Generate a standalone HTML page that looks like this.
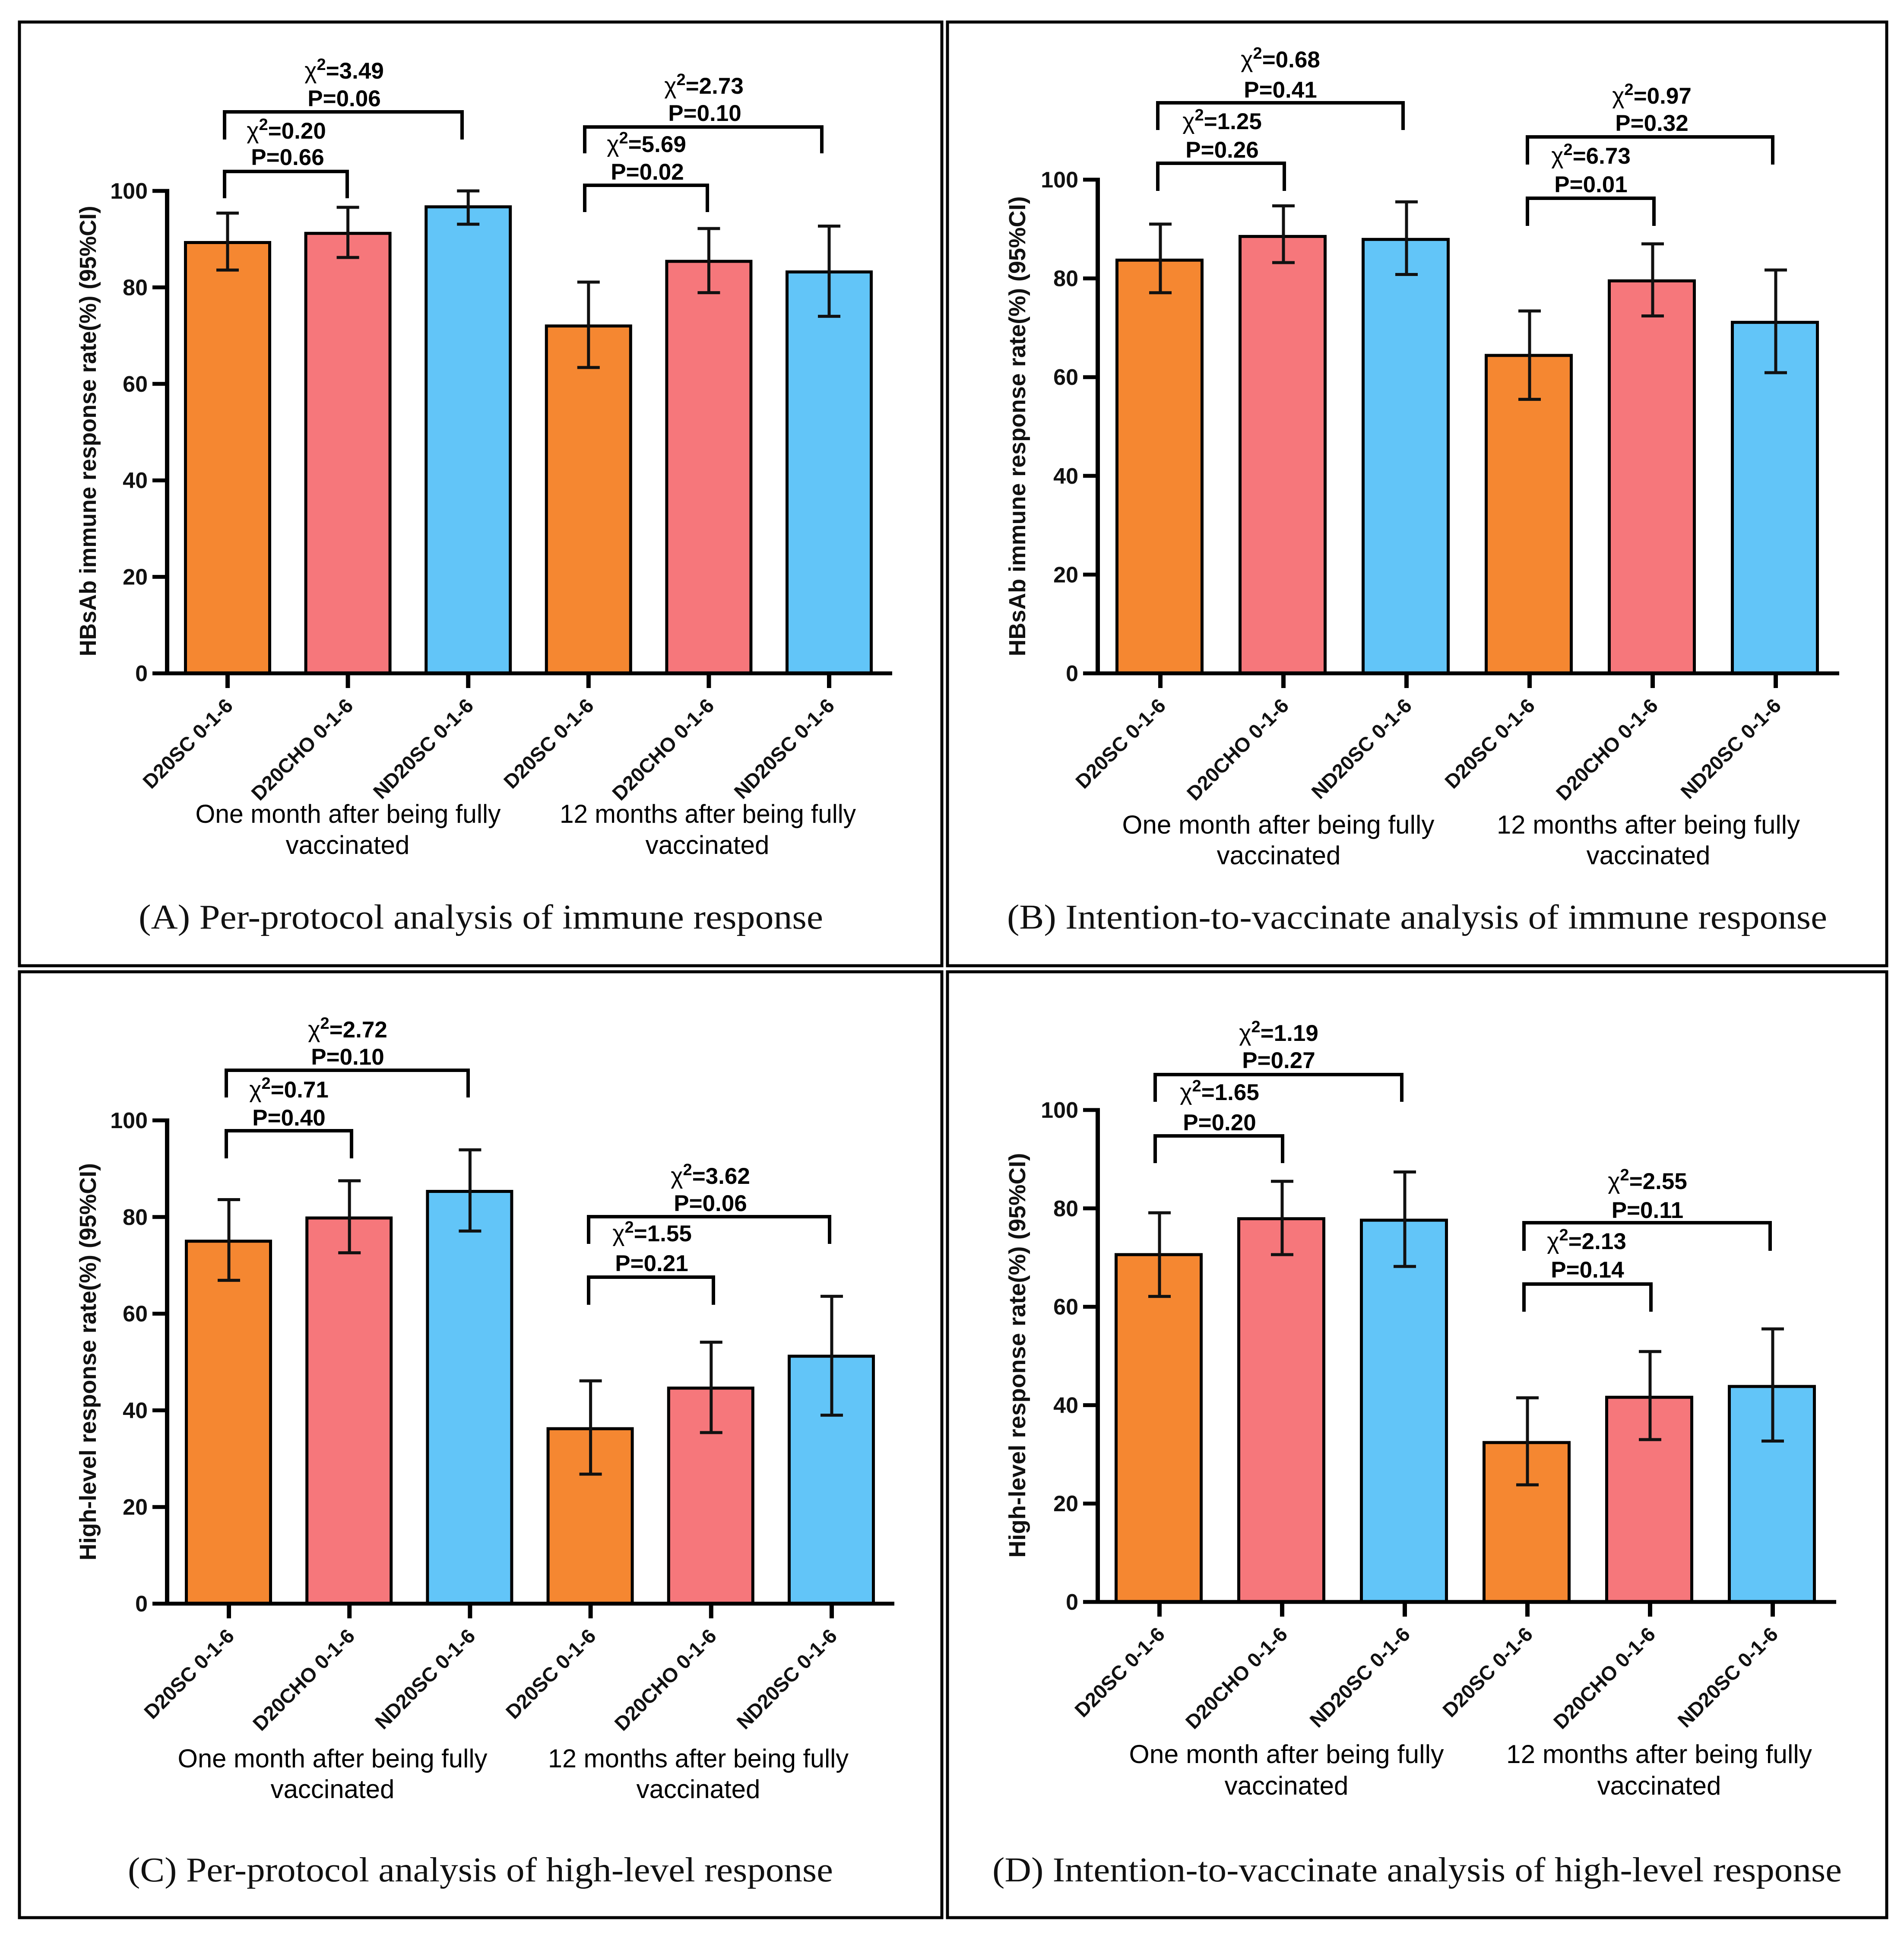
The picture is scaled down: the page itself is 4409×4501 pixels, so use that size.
<!DOCTYPE html>
<html lang="en">
<head>
<meta charset="utf-8">
<title>HBsAb immune response charts</title>
<style>
html,body{margin:0;padding:0;background:#fff;}
svg{display:block;}
text{fill:#000;}
.sans{font-family:"Liberation Sans",sans-serif;}
.tick{font-family:"Liberation Sans",sans-serif;font-weight:bold;font-size:52px;fill:#111;}
.xlab{font-family:"Liberation Sans",sans-serif;font-weight:bold;font-size:46.5px;fill:#111;}
.ytitle{font-family:"Liberation Sans",sans-serif;font-weight:bold;font-size:54px;fill:#111;text-anchor:middle;}
.group{font-family:"Liberation Sans",sans-serif;font-size:60px;text-anchor:middle;fill:#000;}
.ann{font-family:"Liberation Sans",sans-serif;font-weight:bold;font-size:53px;text-anchor:middle;fill:#000;}
.ann .chi{font-weight:normal;font-size:54px;}
.ann .sup{font-size:38px;}
.title{font-family:"Liberation Serif",serif;font-size:80px;fill:#111;}
.frame{fill:none;stroke:#000;stroke-width:7;}
.bracket{fill:none;stroke:#000;stroke-width:8;}
</style>
</head>
<body>
<svg id="figure" xmlns="http://www.w3.org/2000/svg" width="4409" height="4501" viewBox="0 0 4409 4501">
<rect x="0" y="0" width="4409" height="4501" fill="#fff"/>

<!-- Panel frames -->
<rect class="frame" x="45" y="51" width="2136" height="2185"/>
<rect class="frame" x="2194" y="51" width="2175" height="2185"/>
<rect class="frame" x="45" y="2250" width="2136" height="2190"/>
<rect class="frame" x="2194" y="2250" width="2175" height="2190"/>

<!-- Groups the script fills -->
<g id="panel-a"></g>
<g id="panel-b"></g>
<g id="panel-c"></g>
<g id="panel-d"></g>

<!-- Panel titles -->
<text class="title" x="321" y="2150" textLength="1585" lengthAdjust="spacingAndGlyphs">(A) Per-protocol analysis of immune response</text>
<text class="title" x="2332" y="2150" textLength="1899" lengthAdjust="spacingAndGlyphs">(B) Intention-to-vaccinate analysis of immune response</text>
<text class="title" x="296" y="4356" textLength="1633" lengthAdjust="spacingAndGlyphs">(C) Per-protocol analysis of high-level response</text>
<text class="title" x="2298" y="4356" textLength="1967" lengthAdjust="spacingAndGlyphs">(D) Intention-to-vaccinate analysis of high-level response</text>

<!-- Y axis titles -->
<text class="ytitle" transform="translate(222,998) rotate(-90)" textLength="1043" lengthAdjust="spacingAndGlyphs">HBsAb immune response rate(%) (95%CI)</text>
<text class="ytitle" transform="translate(2374,987) rotate(-90)" textLength="1065" lengthAdjust="spacingAndGlyphs">HBsAb immune response rate(%) (95%CI)</text>
<text class="ytitle" transform="translate(222,3153) rotate(-90)" textLength="920" lengthAdjust="spacingAndGlyphs">High-level response rate(%) (95%CI)</text>
<text class="ytitle" transform="translate(2374,3138) rotate(-90)" textLength="937" lengthAdjust="spacingAndGlyphs">High-level response rate(%) (95%CI)</text>

<!-- Group labels -->
<text class="group" x="806" y="1905" textLength="707" lengthAdjust="spacingAndGlyphs">One month after being fully</text>
<text class="group" x="805" y="1977">vaccinated</text>
<text class="group" x="1639" y="1905" textLength="686" lengthAdjust="spacingAndGlyphs">12 months after being fully</text>
<text class="group" x="1638" y="1977">vaccinated</text>

<text class="group" x="2960" y="1930" textLength="723" lengthAdjust="spacingAndGlyphs">One month after being fully</text>
<text class="group" x="2961" y="2001">vaccinated</text>
<text class="group" x="3817" y="1930" textLength="702" lengthAdjust="spacingAndGlyphs">12 months after being fully</text>
<text class="group" x="3817" y="2001">vaccinated</text>

<text class="group" x="770" y="4092" textLength="717" lengthAdjust="spacingAndGlyphs">One month after being fully</text>
<text class="group" x="770" y="4163">vaccinated</text>
<text class="group" x="1617" y="4092" textLength="696" lengthAdjust="spacingAndGlyphs">12 months after being fully</text>
<text class="group" x="1617" y="4163">vaccinated</text>

<text class="group" x="2979" y="4082" textLength="729" lengthAdjust="spacingAndGlyphs">One month after being fully</text>
<text class="group" x="2979" y="4155">vaccinated</text>
<text class="group" x="3842" y="4082" textLength="708" lengthAdjust="spacingAndGlyphs">12 months after being fully</text>
<text class="group" x="3842" y="4155">vaccinated</text>

<!-- Panel A comparisons -->
<path class="bracket" d="M520 323V259H1070V323"/>
<text class="ann" x="797" y="182"><tspan class="chi">χ</tspan><tspan class="sup" dy="-20">2</tspan><tspan dy="20">=3.49</tspan></text>
<text class="ann" x="797" y="246">P=0.06</text>
<path class="bracket" d="M520 459V397H804V459"/>
<text class="ann" x="663" y="321"><tspan class="chi">χ</tspan><tspan class="sup" dy="-20">2</tspan><tspan dy="20">=0.20</tspan></text>
<text class="ann" x="666" y="382">P=0.66</text>
<path class="bracket" d="M1354 355V294H1903V355"/>
<text class="ann" x="1630" y="217"><tspan class="chi">χ</tspan><tspan class="sup" dy="-20">2</tspan><tspan dy="20">=2.73</tspan></text>
<text class="ann" x="1632" y="280">P=0.10</text>
<path class="bracket" d="M1354 491V429H1638V491"/>
<text class="ann" x="1497" y="352"><tspan class="chi">χ</tspan><tspan class="sup" dy="-20">2</tspan><tspan dy="20">=5.69</tspan></text>
<text class="ann" x="1499" y="416">P=0.02</text>

<!-- Panel B comparisons -->
<path class="bracket" d="M2681 301V238H3249V301"/>
<text class="ann" x="2965" y="156"><tspan class="chi">χ</tspan><tspan class="sup" dy="-20">2</tspan><tspan dy="20">=0.68</tspan></text>
<text class="ann" x="2965" y="226">P=0.41</text>
<path class="bracket" d="M2681 442V378H2974V442"/>
<text class="ann" x="2830" y="299"><tspan class="chi">χ</tspan><tspan class="sup" dy="-20">2</tspan><tspan dy="20">=1.25</tspan></text>
<text class="ann" x="2830" y="365">P=0.26</text>
<path class="bracket" d="M3537 381V317H4105V381"/>
<text class="ann" x="3825" y="240"><tspan class="chi">χ</tspan><tspan class="sup" dy="-20">2</tspan><tspan dy="20">=0.97</tspan></text>
<text class="ann" x="3825" y="303">P=0.32</text>
<path class="bracket" d="M3537 523V459H3830V523"/>
<text class="ann" x="3684" y="379"><tspan class="chi">χ</tspan><tspan class="sup" dy="-20">2</tspan><tspan dy="20">=6.73</tspan></text>
<text class="ann" x="3684" y="445">P=0.01</text>

<!-- Panel C comparisons -->
<path class="bracket" d="M524 2541V2478H1084V2541"/>
<text class="ann" x="805" y="2402"><tspan class="chi">χ</tspan><tspan class="sup" dy="-20">2</tspan><tspan dy="20">=2.72</tspan></text>
<text class="ann" x="805" y="2465">P=0.10</text>
<path class="bracket" d="M524 2682V2618H814V2682"/>
<text class="ann" x="669" y="2541"><tspan class="chi">χ</tspan><tspan class="sup" dy="-20">2</tspan><tspan dy="20">=0.71</tspan></text>
<text class="ann" x="669" y="2606">P=0.40</text>
<path class="bracket" d="M1363 2880V2817H1921V2880"/>
<text class="ann" x="1645" y="2741"><tspan class="chi">χ</tspan><tspan class="sup" dy="-20">2</tspan><tspan dy="20">=3.62</tspan></text>
<text class="ann" x="1645" y="2804">P=0.06</text>
<path class="bracket" d="M1363 3021V2957H1652V3021"/>
<text class="ann" x="1510" y="2874"><tspan class="chi">χ</tspan><tspan class="sup" dy="-20">2</tspan><tspan dy="20">=1.55</tspan></text>
<text class="ann" x="1509" y="2943">P=0.21</text>

<!-- Panel D comparisons -->
<path class="bracket" d="M2675 2551V2488H3246V2551"/>
<text class="ann" x="2961" y="2410"><tspan class="chi">χ</tspan><tspan class="sup" dy="-20">2</tspan><tspan dy="20">=1.19</tspan></text>
<text class="ann" x="2961" y="2473">P=0.27</text>
<path class="bracket" d="M2675 2693V2630H2970V2693"/>
<text class="ann" x="2824" y="2547"><tspan class="chi">χ</tspan><tspan class="sup" dy="-20">2</tspan><tspan dy="20">=1.65</tspan></text>
<text class="ann" x="2824" y="2617">P=0.20</text>
<path class="bracket" d="M3529 2896V2831H4099V2896"/>
<text class="ann" x="3815" y="2753"><tspan class="chi">χ</tspan><tspan class="sup" dy="-20">2</tspan><tspan dy="20">=2.55</tspan></text>
<text class="ann" x="3815" y="2820">P=0.11</text>
<path class="bracket" d="M3529 3037V2973H3823V3037"/>
<text class="ann" x="3674" y="2892"><tspan class="chi">χ</tspan><tspan class="sup" dy="-20">2</tspan><tspan dy="20">=2.13</tspan></text>
<text class="ann" x="3676" y="2958">P=0.14</text>
</svg>

<script>
// Chart data
const categories = ["D20SC 0-1-6", "D20CHO 0-1-6", "ND20SC 0-1-6", "D20SC 0-1-6", "D20CHO 0-1-6", "ND20SC 0-1-6"];
const yTickLabels = [0, 20, 40, 60, 80, 100];

const ratesA = [89.3, 91.2, 96.7, 72.0, 85.4, 83.2];
const upperA = [95.4, 96.6, 100, 81.1, 92.2, 92.7];
const lowerA = [83.6, 86.2, 93.1, 63.4, 78.9, 74.0];

const ratesB = [83.7, 88.5, 87.9, 64.4, 79.5, 71.1];
const upperB = [91.0, 94.7, 95.5, 73.4, 87.0, 81.7];
const lowerB = [77.1, 83.2, 80.8, 55.5, 72.4, 60.9];

const ratesC = [75.0, 79.8, 85.3, 36.2, 44.6, 51.2];
const upperC = [83.6, 87.5, 93.9, 46.1, 54.1, 63.6];
const lowerC = [66.9, 72.6, 77.1, 26.8, 35.4, 39.0];

const ratesD = [70.6, 77.9, 77.6, 32.4, 41.6, 43.8];
const upperD = [79.1, 85.5, 87.4, 41.5, 50.9, 55.5];
const lowerD = [62.1, 70.6, 68.2, 23.8, 33.0, 32.7];

const barColors = ["#F58731", "#F6777B", "#62C5F8", "#F58731", "#F6777B", "#62C5F8"];

const SVG_NS = "http://www.w3.org/2000/svg";

function make(tag, attrs, parent) {
  const el = document.createElementNS(SVG_NS, tag);
  for (const k in attrs) el.setAttribute(k, attrs[k]);
  parent.appendChild(el);
  return el;
}

function drawPanel(id, key, frame, rates, upper, lower) {
  const root = document.getElementById(id);
  const yScale = v => frame.y0 - (frame.y0 - frame.y100) * v / 100;
  const xScale = i => frame.first + i * (frame.last - frame.first) / (categories.length - 1);
  const black = "#000";

  // Bars first so that the axes sit on top
  rates.forEach((v, i) => {
    const cx = xScale(i);
    const bar = make("rect", {
      x: cx - frame.barW / 2 + frame.barShift,
      y: yScale(v),
      width: frame.barW,
      height: frame.y0 - yScale(v),
      fill: barColors[i],
      stroke: black,
      "stroke-width": 7
    }, root);
    
    
  });

  // Error bars
  rates.forEach((v, i) => {
    const cx = xScale(i);
    const top = yScale(upper[i]);
    const bottom = yScale(lower[i]);
    const err = make("path", {
      d: "M" + (cx - 26) + " " + top + "H" + (cx + 26) + "M" + cx + " " + top + "V" + bottom + "M" + (cx - 26) + " " + bottom + "H" + (cx + 26),
      fill: "none",
      stroke: "#111",
      "stroke-width": 7
    }, root);
    
    
  });

  // Y axis
  const yAxis = make("line", {
    x1: frame.axisX, x2: frame.axisX,
    y1: yScale(100) - 4.5, y2: frame.y0 + 4.5,
    stroke: black, "stroke-width": 10
  }, root);
  
  

  yTickLabels.forEach(t => {
    const y = yScale(t);
    const mark = make("line", {
      x1: frame.axisX - 34, x2: frame.axisX,
      y1: y, y2: y,
      stroke: black, "stroke-width": 9
    }, root);
    
    
    const label = make("text", {
      x: frame.axisX - 45,
      y: y + 18,
      "text-anchor": "end",
      "class": "tick"
    }, root);
    label.textContent = String(t);
    
    
  });

  // X axis
  const xAxis = make("line", {
    x1: frame.axisX - 34, x2: frame.axisRight,
    y1: frame.y0, y2: frame.y0,
    stroke: black, "stroke-width": 9
  }, root);
  
  

  categories.forEach((c, i) => {
    const cx = xScale(i);
    const mark = make("line", {
      x1: cx, x2: cx,
      y1: frame.y0, y2: frame.y0 + 34,
      stroke: black, "stroke-width": 10
    }, root);
    
    
    const label = make("text", {
      "class": "xlab",
      "text-anchor": "end",
      transform: "translate(" + (cx + 15) + "," + (frame.y0 + 78) + ") rotate(-45)"
    }, root);
    label.textContent = c;
    
    
  });
}

drawPanel("panel-a", "panel-a", { y0: 1559, y100: 442, axisX: 387, axisRight: 2066, first: 527, last: 1920, barW: 195, barShift: 0 }, ratesA, upperA, lowerA);
drawPanel("panel-b", "panel-b", { y0: 1559, y100: 416, axisX: 2542, axisRight: 4259, first: 2687, last: 4112, barW: 197, barShift: -2 }, ratesB, upperB, lowerB);
drawPanel("panel-c", "panel-c", { y0: 3713, y100: 2594, axisX: 387, axisRight: 2071, first: 530, last: 1926, barW: 195, barShift: -1 }, ratesC, upperC, lowerC);
drawPanel("panel-d", "panel-d", { y0: 3709, y100: 2570, axisX: 2542, axisRight: 4252, first: 2685, last: 4105, barW: 197, barShift: -2 }, ratesD, upperD, lowerD);
</script>
</body>
</html>
